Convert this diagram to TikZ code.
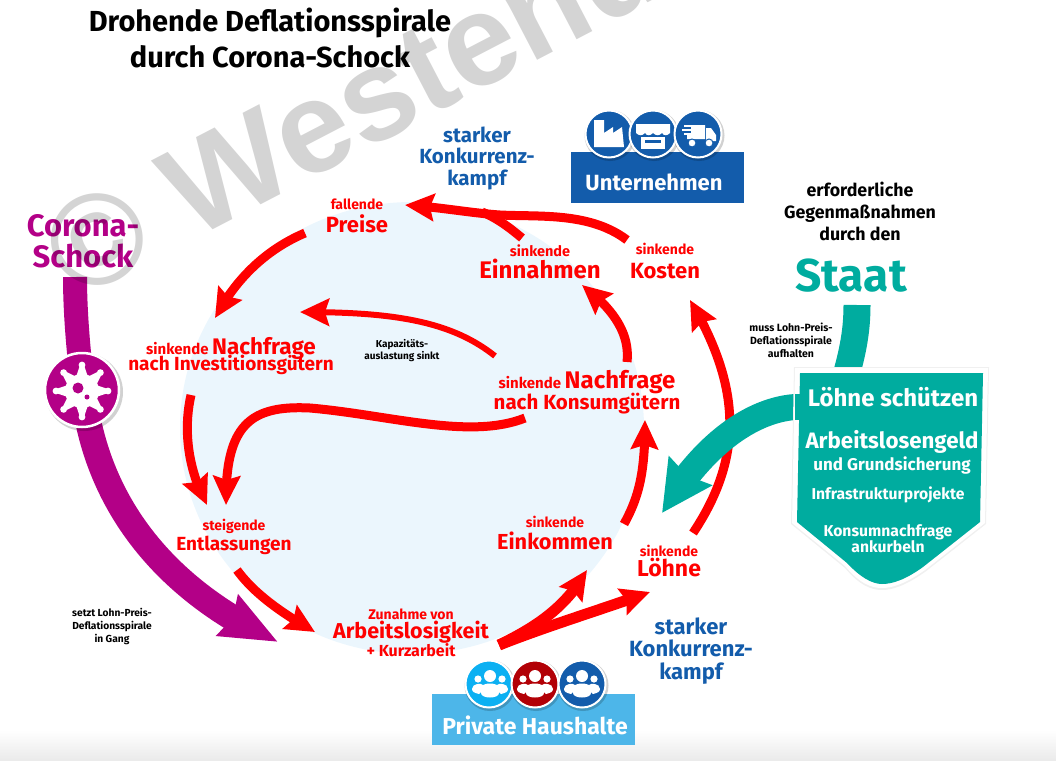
\documentclass[tikz,border=0pt]{standalone}
\usepackage{fontspec}
\setmainfont{Fira Sans}[BoldFont={Fira Sans Bold}]
\newfontfamily\wmfont{Liberation Sans}[BoldFont={Liberation Sans Bold}]
\usetikzlibrary{arrows.meta,bending,calc}
\definecolor{rd}{HTML}{FF0000}
\definecolor{pur}{HTML}{B30087}
\definecolor{tl}{HTML}{00AC9F}
\definecolor{bl}{HTML}{135CAB}
\definecolor{sky}{HTML}{4DB6E9}
\definecolor{cy}{HTML}{0CB0F2}
\definecolor{drd}{HTML}{B20006}
\definecolor{pale}{HTML}{EBF6FD}
\newcommand{\fs}[2]{\fontsize{#1}{#2}\selectfont}
\tikzset{
  lab/.style={inner sep=0pt,outer sep=0pt,align=center,font=\bfseries},
  redl/.style={lab,text=rd},
  blul/.style={lab,text=bl},
  blkl/.style={lab,text=black},
  whtl/.style={lab,text=white},
  sz/.style 2 args={font=\bfseries\fs{#1}{#2}},
  redarrow/.style={draw=rd,line width=9pt,-{Stealth[length=29pt,width=27pt,inset=4pt,flex]}},
  redline/.style={draw=rd,line width=9pt},
  tealarrow/.style={draw=tl,line width=26pt,-{Stealth[length=50pt,width=50pt,inset=5pt,flex]}},
  purarrow/.style={draw=pur,line width=26pt,-{Stealth[length=56pt,width=44pt,inset=5pt,flex]}},
  iconc/.style={draw=white,line width=2pt},
  shadowc/.style={fill=black,opacity=.18},
}
\newcommand{\iconcircle}[3]{%
  \fill[shadowc] (#1+1,#2+1.5) circle (25.5);
  \filldraw[iconc,fill=#3] (#1,#2) circle (23.5);
}
\newcommand{\peopleicon}[2]{%
  \begin{scope}[shift={(#1,#2)}]
    \fill[white] (0,-9) circle (6);
    \fill[white] (-12,-6) circle (3.6);
    \fill[white] (12,-6) circle (3.6);
    \fill[white] (-18,4) .. controls (-18,-2) and (-8,-2) .. (-7,0) -- (-7,5) -- (-11,9) .. controls (-15,8) and (-18,7) .. cycle;
    \fill[white] (18,4) .. controls (18,-2) and (8,-2) .. (7,0) -- (7,5) -- (11,9) .. controls (15,8) and (18,7) .. cycle;
    \fill[white] (-9,3) .. controls (-9,-3) and (9,-3) .. (9,3) -- (9,8) .. controls (9,14) and (-9,14) .. (-9,8) -- cycle;
  \end{scope}%
}
\begin{document}
\begin{tikzpicture}[x=1pt,y=-1pt]
\useasboundingbox (0,0) rectangle (1056,760);
\shade[top color=white,bottom color=black!8] (0,730) rectangle (1056,760);
% pale disc
\fill[pale] (412,428) ellipse [x radius=232,y radius=226];

% end points
\coordinate (k1) at (627,240); \coordinate (p1) at (405,205);
\coordinate (e1) at (522,238); \coordinate (m1) at (482,212);
\coordinate (p2) at (305,233); \coordinate (ni1) at (215,318);
\coordinate (ni2) at (191,395); \coordinate (en1) at (207,505);
\coordinate (nk1) at (525,418); \coordinate (en2) at (226,505);
\coordinate (nk2) at (495,356); \coordinate (kap) at (300,312);
\coordinate (en3) at (237,570); \coordinate (al1) at (315,632);
\coordinate (al2) at (499,645); \coordinate (ek1) at (587,570);
\coordinate (lo1) at (650,592);
\coordinate (ek2) at (624,524); \coordinate (nk3) at (645,420);
\coordinate (lo2) at (693,533); \coordinate (ko1) at (690,300);
\coordinate (nk4) at (627,362); \coordinate (ei1) at (582,285);
\coordinate (co1) at (75,277); \coordinate (vi1) at (81,372); \coordinate (vi2) at (89,425); \coordinate (hh1) at (278,642);
\coordinate (st1) at (857,305); \coordinate (sh1) at (847,372);
\coordinate (sh2) at (795,407); \coordinate (tt1) at (662,513);

% purple
\draw[draw=pur,line width=24pt] (co1) .. controls (75,310) and (78,345) .. (vi1);
\draw[purarrow] (vi2) .. controls (108,510) and (165,590) .. (hh1);
% teal
\draw[draw=tl,line width=27pt] (st1) .. controls (857,330) and (853,350) .. (sh1);

% red
\draw[redarrow] (k1) .. controls (590,212) and (540,217) .. (500,215) .. controls (470,213) and (440,207) .. (p1);
\draw[redline] (e1) .. controls (510,228) and (497,218) .. (m1);
\draw[redarrow] (p2) .. controls (265,250) and (235,280) .. (ni1);
\draw[redarrow] (ni2) .. controls (183,430) and (188,470) .. (en1);
\draw[redarrow] (nk1) .. controls (470,440) and (390,415) .. (310,408) .. controls (250,405) and (225,425) .. (en2);
\draw[redarrow,line width=6pt] (nk2) .. controls (450,320) and (390,312) .. (kap);
\draw[redarrow] (en3) .. controls (255,595) and (285,615) .. (al1);
\draw[redarrow,line width=11pt] (al2) .. controls (530,630) and (565,610) .. (ek1);
\draw[redarrow,line width=11pt] (al2) .. controls (550,625) and (600,610) .. (lo1);
\draw[redarrow] (ek2) .. controls (640,495) and (645,470) .. (nk3);
\draw[redarrow] (lo2) .. controls (745,455) and (740,385) .. (ko1);
\draw[redarrow] (nk4) .. controls (630,335) and (615,310) .. (ei1);

% teal big arrow over red
\draw[tealarrow] (sh2) .. controls (755,410) and (705,440) .. (tt1);

% shield
\fill[black!6] (794,367) -- (989,367) -- (986,524) -- (925,572) .. controls (905,586) and (892,590) .. (882,590) .. controls (872,590) and (860,586) .. (845,568) -- (791,524) -- cycle;
\fill[white] (795,368) -- (988,368) -- (985,523) -- (925,570) .. controls (905,584) and (892,588) .. (882,588) .. controls (872,588) and (860,584) .. (845,566) -- (792,523) -- cycle;
\fill[tl] (800,373) -- (983,373) -- (980,522) -- (923,567) .. controls (905,580) and (892,584) .. (882,584) .. controls (872,584) and (860,577) .. (847,563) -- (797,522) -- cycle;
\fill[tl] (795,394) rectangle (802,420);

% Unternehmen
\fill[bl] (571,152) rectangle (744,203);
\iconcircle{609}{134}{bl}
\iconcircle{653}{134}{bl}
\iconcircle{698}{134}{bl}
% factory
\fill[white] (594,120) -- (604,120) -- (604,133) -- (613,127) -- (613,133) -- (622,127) -- (624,147) -- (594,147) -- cycle;
% shop
\fill[white] (636,124) -- (670,124) -- (670,133) .. controls (667,136) and (664,136) .. (662,133) .. controls (659,136) and (656,136) .. (653,133) .. controls (650,136) and (647,136) .. (645,133) .. controls (642,136) and (639,136) .. (636,133) -- cycle;
\fill[white] (641,137) -- (665,137) -- (665,149) -- (641,149) -- cycle;
\fill[bl] (645,140) rectangle (661,143);
% truck
\fill[white] (691,125) -- (705,125) -- (705,139) -- (687,139) -- (687,135) -- (691,135) -- cycle;
\fill[white] (706,128) -- (711,128) -- (716,135) -- (716,141) -- (706,141) -- cycle;
\fill[white] (684,125) rectangle (698,127);
\fill[white] (682,129) rectangle (696,131);
\fill[white] (684,133) rectangle (696,135);
\filldraw[fill=white,draw=bl,line width=1pt] (692,143) circle (4);
\filldraw[fill=white,draw=bl,line width=1pt] (709,143) circle (4);
% Haushalte
\fill[sky] (432,694) rectangle (635,745);
\iconcircle{489}{684}{cy}
\iconcircle{535}{684}{drd}
\iconcircle{582}{684}{bl}
\peopleicon{490}{685}
\peopleicon{535}{685}
\peopleicon{582}{685}

% virus circle
\fill[shadowc] (84,392) circle (39);
\filldraw[draw=white,line width=2.5pt,fill=pur] (82,390) circle (37);
\begin{scope}[shift={(82,391)}]
  \fill[white] (0,0) circle (17);
  \foreach \a in {0,45,...,315} {
    \fill[white,rotate=\a] (14,-6) -- (26,-2) -- (26,2) -- (14,6) -- cycle;
    \fill[white,rotate=\a] (26,0) circle (3.4);
  }
  \fill[pur] (-4,-3) circle (5.5);
  \fill[pur] (5,6) circle (2.5);
\end{scope}

% texts
\node[blkl] (t1) at (270,23) {\fs{29}{29}Drohende Deflationsspirale};
\node[blkl] (t2) at (270,57) {\fs{29}{29}durch Corona-Schock};
\node[blul,sz={20.5}{21.5}] (k2) at (477,158) {starker\\Konkurrenz-\\kampf};
\node[whtl] (un) at (654,182) {\fs{22}{22}Unternehmen};
\node[redl] (pre) at (357,216) {\fs{14}{16}fallende\\[4pt]\fs{22}{22}Preise};
\node[redl] (ein) at (540,262) {\fs{14.5}{17}sinkende\\[1pt]\fs{24}{20}Einnahmen};
\node[redl] (kos) at (665,261) {\fs{14}{17}sinkende\\[7pt]\fs{22}{20}Kosten};
\node[redl] (nfi) at (231,356) {\fs{15}{20}sinkende \fs{22.5}{20}Nachfrage\\[-5pt]\fs{19}{18}nach Investitionsgütern};
\node[blkl,sz={10}{12}] (kp) at (402,351) {Kapazitäts-\\auslastung sinkt};
\node[redl] (nfk) at (587,392) {\fs{15}{20}sinkende \fs{24}{20}Nachfrage\\[-2pt]\fs{20.5}{20}nach Konsumgütern};
\node[redl] (ent) at (234,537) {\fs{14}{17}steigende\\[1pt]\fs{19}{19}Entlassungen};
\node[redl] (eko) at (555,533) {\fs{14}{19}sinkende\\[4pt]\fs{21.7}{20}Einkommen};
\node[redl] (loe) at (669,561) {\fs{14}{17}sinkende\\\fs{23}{20}Löhne};
\node[redl] (arb) at (411,633) {\fs{14}{18}Zunahme von\\\fs{21.5}{21}Arbeitslosigkeit\\\fs{16}{20}+ Kurzarbeit};
\node[blul,sz={22}{22.5}] (k3) at (691,651) {starker\\Konkurrenz-\\kampf};
\node[whtl] (ph) at (535,725) {\fs{23}{23}Private Haushalte};
\node[lab,text=pur,sz={31}{31}] (cs) at (83,241) {Corona-\\Schock};
\node[blkl,sz={10.2}{13}] (ss) at (112,626) {setzt Lohn-Preis-\\Deflationsspirale\\in Gang};
\node[blkl,sz={17.8}{22}] (ge) at (860,211) {erforderliche\\Gegenmaßnahmen\\durch den};
\node[lab,text=tl] (sta) at (851,276) {\fs{46}{46}Staat};
\node[blkl,sz={10.5}{13}] (ma) at (791,340) {muss Lohn-Preis-\\Deflationsspirale\\aufhalten};
\node[whtl] (s1) at (893,397) {\fs{24}{25}Löhne schützen};
\node[whtl] (s2) at (892,442) {\fs{22.3}{25}Arbeitslosengeld};
\node[whtl] (s3) at (892,465) {\fs{17}{17}und Grundsicherung};
\node[whtl] (s4) at (888,495) {\fs{15.7}{15}Infrastrukturprojekte};
\node[whtl,sz={15.7}{16}] (s5) at (888,539) {Konsumnachfrage\\ankurbeln};

% watermark
\begin{scope}
  \clip (0,0) rectangle (1056,760);
  \node[lab,anchor=west,text=black,opacity=.17,rotate=27.5,font=\wmfont\bfseries\fs{130}{130}] (wm) at (54,260) {© Westend};
\end{scope}
\end{tikzpicture}
\end{document}
